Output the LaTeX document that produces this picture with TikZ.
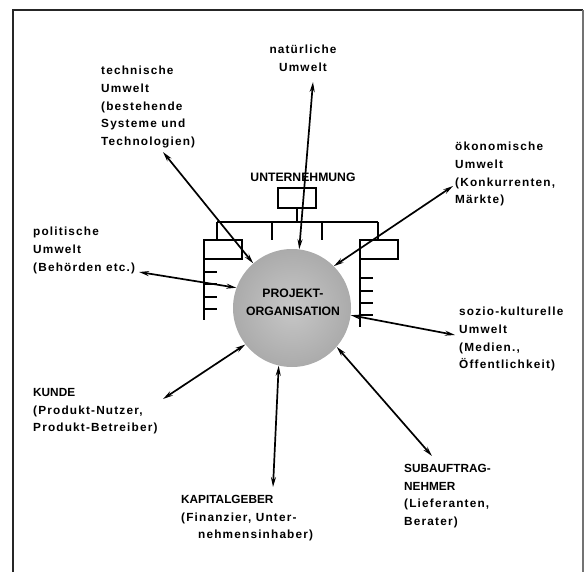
\documentclass[tikz,border=0pt]{standalone}
\usepackage{fontspec}
\setmainfont{Liberation Sans}
\newfontfamily\umfont[LetterSpace=10]{Liberation Sans}
\newfontfamily\capfont{Liberation Sans}
\usetikzlibrary{arrows.meta, positioning}

\begin{document}
\begin{tikzpicture}[
    x=1pt, y=-1pt,
    umwelt/.style={inner sep=0pt, align=left, font=\umfont\bfseries\fontsize{11.8}{17.7}\selectfont},
    gruppe/.style={inner sep=0pt, font=\capfont\bfseries\fontsize{12.2}{17.7}\selectfont},
    pfeil/.style={{Stealth[length=10pt,width=5pt]}-{Stealth[length=10pt,width=5pt]}, line width=1.7pt},
    org/.style={draw, line width=1.7pt}
]
    \useasboundingbox (0,0) rectangle (585,572);

    % Rahmen
    \draw[line width=2.4pt, black!85] (13,572) -- (13,10) -- (583,10);
    \draw[line width=1.5pt, black!55] (583,10) -- (583,572);

    % Unternehmung
    \node[gruppe] (un) at (303,177) {UNTERNEHMUNG};
    \draw[org] (278,188) rectangle (316,208);
    \draw[org] (297,208) -- (297,222);
    \draw[org] (217,222) -- (378,222);
    \foreach \x in {217,272,322,378}
        \draw[org] (\x,222) -- (\x,240);
    \draw[org] (204,240) rectangle (242,259);
    \draw[org] (204,259) -- (204,320);
    \foreach \y in {272,284,297,309}
        \draw[org] (204,\y) -- (217,\y);
    \draw[org] (360,240) rectangle (398,259);
    \draw[org] (360,259) -- (360,327);
    \foreach \y in {278,291,303,315}
        \draw[org] (360,\y) -- (373,\y);

    % Projektorganisation
    \node[circle, minimum size=118pt, inner sep=0pt, inner color=black!22, outer color=black!33] (po) at (292,308) {};
    \node[gruppe, align=center] (pol) at (293,302) {PROJEKT-\\ORGANISATION};

    % Umwelten
    \node[umwelt, align=center, anchor=north] (nat) at (303,45) {natürliche\\Umwelt};
    \node[umwelt, anchor=north west] (tech) at (101,66) {technische\\Umwelt\\(bestehende\\Systeme und\\Technologien)};
    \node[umwelt, anchor=north west] (oek) at (455,142) {ökonomische\\Umwelt\\(Konkurrenten,\\Märkte)};
    \node[umwelt, anchor=north west] (pol) at (33,227) {politische\\Umwelt\\(Behörden etc.)};
    \node[umwelt, anchor=north west] (soz) at (459,307) {sozio-kulturelle\\Umwelt\\(Medien.,\\Öffentlichkeit)};
    \node[umwelt, anchor=north west] (kun) at (33,388) {{\capfont KUNDE}\\(Produkt-Nutzer,\\Produkt-Betreiber)};
    \node[umwelt, anchor=north west] (kap) at (181,495) {{\capfont KAPITALGEBER}\\(Finanzier, Unter-\\\hspace*{17pt}nehmensinhaber)};
    \node[umwelt, anchor=north west] (sub) at (404,464) {{\capfont SUBAUFTRAG-}\\{\capfont NEHMER}\\(Lieferanten,\\Berater)};

    % Pfeilenden
    \coordinate (tnat) at (313,82);
    \coordinate (ttech) at (163,152);
    \coordinate (toek) at (453,186);
    \coordinate (tpol) at (139,272);
    \coordinate (tsoz) at (455,335);
    \coordinate (tkun) at (163,399);
    \coordinate (tkap) at (273,487);
    \coordinate (tsub) at (432,456);

    \draw[pfeil] (po.83) -- (tnat);
    \draw[pfeil] (po.131) -- (ttech);
    \draw[pfeil] (po.45) -- (toek);
    \draw[pfeil] (po.160) -- (tpol);
    \draw[pfeil] (po.353) -- (tsoz);
    \draw[pfeil] (po.218) -- (tkun);
    \draw[pfeil] (po.257) -- (tkap);
    \draw[pfeil] (po.319) -- (tsub);
\end{tikzpicture}
\end{document}
